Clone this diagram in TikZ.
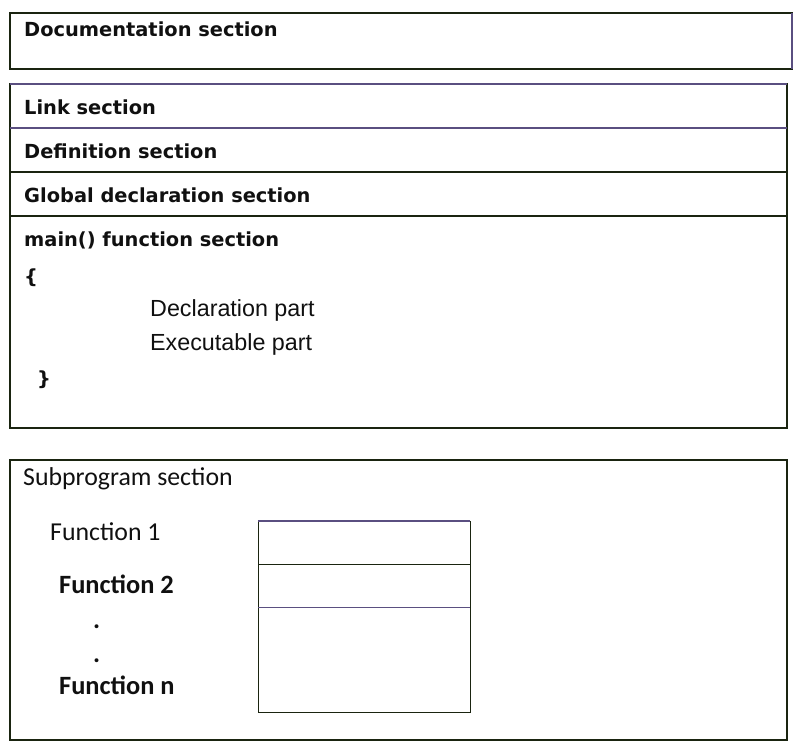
\documentclass[tikz,border=0pt]{standalone}
\usepackage{fontspec}
\setmainfont{Liberation Sans}
\newfontfamily\tahoma{DejaVu Sans}
\newfontfamily\calibri{Carlito}
\definecolor{lineblk}{HTML}{1A2410}
\definecolor{linepur}{HTML}{5A4F80}
\definecolor{txt}{HTML}{101010}
\tikzset{
  frame/.style={draw=lineblk, line width=1.2pt},
  purline/.style={draw=linepur, line width=1.6pt},
  hdr/.style={anchor=base west, inner sep=0pt, text=txt, font=\tahoma\bfseries\fontsize{19.4}{22}\selectfont},
  body/.style={anchor=base west, inner sep=0pt, text=txt, font=\fontsize{23.3}{26}\selectfont},
  cal/.style={anchor=base west, inner sep=0pt, text=txt, font=\calibri\fontsize{25.8}{28}\selectfont},
  calb/.style={anchor=base west, inner sep=0pt, text=txt, font=\calibri\bfseries\fontsize{26.4}{28}\selectfont},
}
\begin{document}
\begin{tikzpicture}[x=1pt,y=-1pt]
\useasboundingbox (0,0) rectangle (800,749);
% Documentation
\draw[frame] (10,13) rectangle (792,69);
\draw[purline] (792,13) -- (792,69);
\node[hdr] (doc) at (24,37) {Documentation section};
% main stack
\draw[frame] (10,84) rectangle (787,428);
\draw[purline] (10,84) -- (787,84);
\draw[purline] (10,128) -- (787,128);
\draw[frame] (10,172) -- (787,172);
\draw[frame] (10,216) -- (787,216);
\node[hdr] (link) at (24,114) {Link section};
\node[hdr] (def) at (24,158) {Definition section};
\node[hdr] (glob) at (24,202) {Global declaration section};
\node[hdr] (mainf) at (24,246) {main() function section};
\node[hdr] (lb) at (24,283) {\{};
\node[body] (decl) at (150,316) {Declaration part};
\node[body] (exec) at (150,350) {Executable part};
\node[hdr] (rb) at (37,385) {\}};
% Subprogram
\draw[frame] (10,460) rectangle (787,740);
\node[cal] (sub) at (23,485) {Subprogram section};
\node[cal] (f1) at (50,540) {Function 1};
\node[calb] (f2) at (59,593) {Function 2};
\node[calb] (d1) at (93,628) {.};
\node[calb] (d2) at (93,662) {.};
\node[calb] (fn) at (59,694) {Function n};
\draw[frame, line width=1pt] (258,521) rectangle (470,712);
\draw[draw=linepur, line width=1.3pt] (258,521) -- (470,521);
\draw[frame, line width=1pt] (258,564) -- (470,564);
\draw[draw=linepur, line width=1pt] (258,607) -- (470,607);
\end{tikzpicture}
\end{document}
